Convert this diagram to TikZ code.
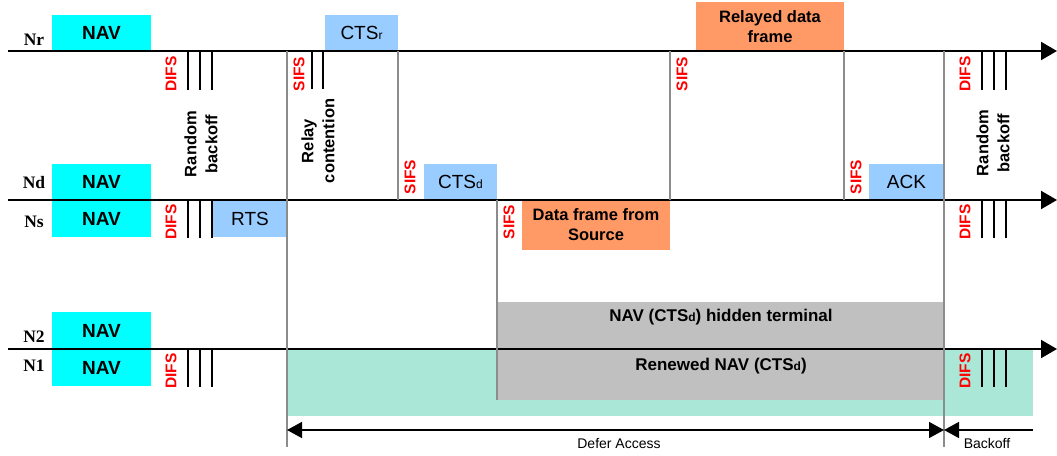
\documentclass[tikz,border=0pt]{standalone}
\usepackage{fontspec}
\setmainfont{Liberation Sans}
\newfontfamily\serifb{Liberation Serif}
\usetikzlibrary{arrows.meta}
\definecolor{navc}{HTML}{00FFFF}
\definecolor{ctsc}{HTML}{99CCFF}
\definecolor{datac}{HTML}{FF9966}
\definecolor{grayc}{HTML}{C0C0C0}
\definecolor{tealc}{HTML}{AAE7D6}
\definecolor{divc}{HTML}{8C8C8C}
\newcommand{\subs}[1]{{\fontsize{12}{12}\selectfont #1}}
\newcommand{\subsm}[1]{{\fontsize{12}{12}\selectfont #1}}
\begin{document}
\begin{tikzpicture}[x=1pt,y=-1pt,
 box/.style={inner sep=0pt, outer sep=0pt, anchor=south west, align=center},
 navbox/.style={box, fill=navc, minimum width=99pt, minimum height=36pt, font=\fontsize{19}{19}\selectfont\bfseries},
 ctlbox/.style={box, fill=ctsc, minimum height=36pt, font=\fontsize{19}{19}\selectfont},
 databox/.style={box, fill=datac, font=\fontsize{16.5}{20}\selectfont\bfseries},
 ifs/.style={rotate=90, text=red, font=\fontsize{15.5}{15.5}\selectfont\bfseries, inner sep=0pt},
 lbl/.style={font=\serifb\fontsize{17.5}{17.5}\selectfont\bfseries, inner sep=0pt},
 rot/.style={rotate=90, align=center, font=\fontsize{16.5}{21}\selectfont\bfseries, inner sep=0pt},
 graytxt/.style={font=\fontsize{17}{17}\selectfont\bfseries, inner sep=0pt},
 tl/.style={line width=2pt, -{Triangle[length=16pt,width=18pt]}},
 div/.style={draw=divc, line width=1.5pt},
 tk/.style={line width=2pt},
 small/.style={font=\fontsize{14}{14}\selectfont, inner sep=0pt},
 dtip/.style={line width=1.5pt, {Triangle[length=15pt,width=16pt]}-{Triangle[length=15pt,width=16pt]}},
 stip/.style={line width=1.5pt, -{Triangle[length=15pt,width=16pt]}}
]
\useasboundingbox (0,0) rectangle (1057,455);

% background areas
\node[box, fill=tealc, minimum width=746pt, minimum height=67pt] (teal) at (287,416) {};
\node[box, fill=grayc, minimum width=447pt, minimum height=98pt] (navh) at (497,400) {};
\node[graytxt] (navhtxt) at (721,317) {NAV (CTS\subsm{d}) hidden terminal};
\node[graytxt] (renewtxt) at (721,366) {Renewed NAV (CTS\subsm{d})};

% NAV boxes
\node[navbox] (navr) at (52,51) {NAV};
\node[navbox] (navd) at (52,200) {NAV};
\node[navbox, minimum height=37pt] (navs) at (52,237) {NAV};
\node[navbox, minimum height=37pt] (nav2) at (52,349) {NAV};
\node[navbox, minimum height=37pt] (nav1) at (52,386) {NAV};

% frames
\node[ctlbox, minimum width=74pt, minimum height=37pt] (rts) at (213,237) {RTS};
\node[ctlbox, minimum width=73pt] (ctsr) at (325,51) {CTS\subs{r}};
\node[ctlbox, minimum width=73pt] (ctsd) at (424,200) {CTS\subs{d}};
\node[ctlbox, minimum width=75pt] (ack) at (869,200) {ACK};
\node[databox, minimum width=148pt, minimum height=49pt] (relay) at (696,51) {Relayed data\\frame};
\node[databox, minimum width=148pt, minimum height=50pt] (dsrc) at (522,250) {Data frame from\\Source};

% station labels
\node[lbl] (lnr) at (34,40) {Nr};
\node[lbl] (lnd) at (34,183) {Nd};
\node[lbl] (lns) at (34,222) {Ns};
\node[lbl] (ln2) at (34,337) {N2};
\node[lbl] (ln1) at (34,366) {N1};

% timelines
\coordinate (r0) at (8,51);   \coordinate (r1) at (1057,51);
\coordinate (d0) at (8,200);  \coordinate (d1) at (1057,200);
\coordinate (n0) at (8,349);  \coordinate (n1) at (1057,349);
\draw[tl] (r0) -- (r1);
\draw[tl] (d0) -- (d1);
\draw[tl] (n0) -- (n1);

% dividers
\draw[div] (287,51) -- (287,447);
\draw[div] (398,51) -- (398,200);
\draw[div] (497,200) -- (497,400);
\draw[div] (670,51) -- (670,200);
\draw[div] (844,51) -- (844,200);
\draw[div] (944,51) -- (944,447);

% backoff ticks
\foreach \x in {188,200,212} {
  \draw[tk] (\x,51) -- (\x,90);
  \draw[tk] (\x,200) -- (\x,238);
  \draw[tk] (\x,349) -- (\x,387);
}
\foreach \x in {982,994,1006} {
  \draw[tk] (\x,51) -- (\x,90);
  \draw[tk] (\x,200) -- (\x,238);
  \draw[tk] (\x,349) -- (\x,387);
}
\foreach \x in {312,323} {
  \draw[tk] (\x,51) -- (\x,89);
}

% IFS labels
\node[ifs] (difs1) at (171,74) {DIFS};
\node[ifs] (difs2) at (171,222) {DIFS};
\node[ifs] (difs3) at (171,371) {DIFS};
\node[ifs] (difs4) at (965,74) {DIFS};
\node[ifs] (difs5) at (965,222) {DIFS};
\node[ifs] (difs6) at (965,371) {DIFS};
\node[ifs] (sifs1) at (299,74) {SIFS};
\node[ifs] (sifs2) at (410,177) {SIFS};
\node[ifs] (sifs3) at (509,222) {SIFS};
\node[ifs] (sifs4) at (682,74) {SIFS};
\node[ifs] (sifs5) at (856,177) {SIFS};

% rotated texts
\node[rot] (rb1) at (201,144) {Random\\backoff};
\node[rot] (rc) at (318,141) {Relay\\contention};
\node[rot] (rb2) at (993,143) {Random\\backoff};

% defer / backoff arrows
\coordinate (da0) at (287,430);
\coordinate (da1) at (944,430);
\coordinate (bo0) at (1033,430);
\draw[dtip] (da0) -- (da1);
\draw[stip] (bo0) -- (da1);
\node[small] (deftxt) at (619,443) {Defer Access};
\node[small] (botxt) at (987,443) {Backoff};
\end{tikzpicture}
\end{document}
